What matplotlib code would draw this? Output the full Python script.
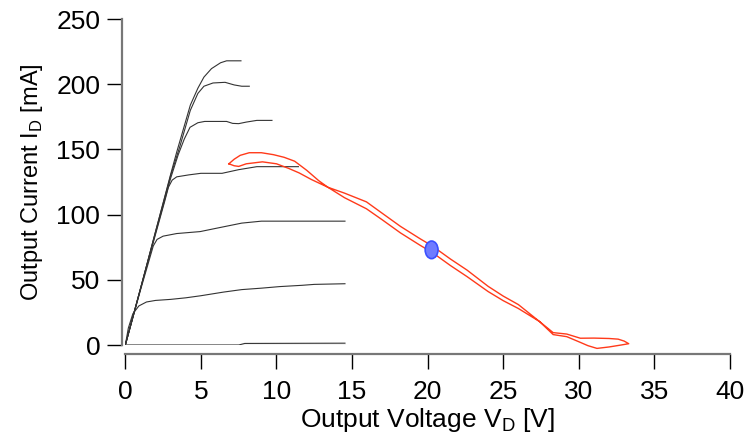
import matplotlib.pyplot as plt
from matplotlib.patches import Ellipse

plt.rcParams["font.family"] = ["Liberation Sans", "DejaVu Sans"]
plt.rcParams["mathtext.fontset"] = "custom"
plt.rcParams["mathtext.rm"] = "Liberation Sans"

# Output characteristics, one curve per gate bias (V in volts, I in mA)
v_1 = [0, 1, 2, 3, 3.4, 4.3, 4.8, 5.2, 5.7, 6.3, 6.7, 7.65]
i_1 = [0, 43, 87, 131, 148, 184, 197, 205.5, 212, 216.5, 218, 218]
v_2 = [0, 1, 2, 3, 3.6, 4.3, 4.8, 5.2, 5.8, 6.6, 7.2, 7.7, 8.2]
i_2 = [0, 43, 87, 130, 152, 180, 193, 198.5, 201, 201.5, 199.5, 198.5, 198.5]
v_3 = [0, 1, 2, 3, 3.5, 3.9, 4.28, 4.8, 5.25, 6.7, 7.1, 7.5, 8.0, 8.7, 9.7]
i_3 = [0, 43, 86, 128, 146, 158, 167, 170.5, 171.5, 171.5, 170, 169.8, 171, 172.3, 172.3]
v_4 = [0, 1, 2, 2.6, 2.85, 3.1, 3.4, 4.2, 5.0, 6.4, 7.5, 8.7, 11.45]
i_4 = [0, 43, 85, 110, 121, 126.5, 129, 130.5, 131.7, 131.7, 134.5, 136.8, 136.8]
v_5 = [0, 1, 1.5, 1.85, 2.1, 2.5, 3.4, 4.95, 6.0, 7.7, 9.0, 14.53]
i_5 = [0, 42, 62, 76, 81, 83.5, 85.5, 87, 89.5, 93.5, 95, 95]
v_6 = [0, 0.2, 0.5, 0.9, 1.4, 2.0, 3.0, 4.0, 5.0, 6.5, 7.7, 9.0, 10.2, 11.7, 12.5, 14.53]
i_6 = [0, 13, 24, 30, 33, 34.2, 35, 36.2, 37.8, 40.6, 42.5, 43.6, 44.8, 45.8, 46.5, 47]
v_7 = [0, 7.5, 7.9, 14.53]
i_7 = [0, 0, 1.2, 1.4]
v_8 = [0, 14.53]
i_8 = [0, 0]

# Dynamic load line, two branches of the closed loop
v_a = [6.85, 7.2, 7.6, 8.2, 9.0, 9.8, 10.5, 11.2, 12.0, 12.8, 13.4,
       14.5, 15.95, 17.0, 18.2, 19.5, 20.3, 21.5, 22.6, 24.0, 25.0, 26.0, 27.4,
       28.3, 29.2, 30.1, 31.0, 32.0, 32.6, 33.0, 33.3]
i_a = [139, 142.5, 145.5, 147.5, 147.5, 146, 144, 141, 134, 126, 121,
       113, 104.5, 96, 86, 76.5, 71, 61, 52.5, 41, 34, 28, 18,
       9.5, 8.4, 5.2, 5.3, 5.0, 4.5, 3.0, 1.0]
v_b = [6.85, 7.2, 7.5, 8.0, 9.07, 10.0, 10.8, 11.5, 12.3, 13.4,
       14.5, 15.95, 17.0, 18.2, 19.5, 20.3, 21.5, 22.6, 24.0, 25.0, 26.0, 27.4,
       28.3, 29.2, 30.0, 30.6, 31.2, 32.0, 32.8, 33.3]
i_b = [139, 137.5, 137, 139, 140.5, 139, 135.5, 132, 127, 121,
       116.5, 109.8, 101, 91, 81.5, 76, 66, 57.5, 45, 37.5, 31, 18,
       8, 6.4, 2.5, -0.5, -2.6, -1.5, 0, 1.0]

# Quiescent bias point
q_v = 20.26
q_i = 73

fig = plt.figure(figsize=(7.54, 4.36), dpi=100)
ax = fig.add_axes([0.1662, 0.2087, 0.802, 0.7475])

curves = [(v_1, i_1), (v_2, i_2), (v_3, i_3), (v_4, i_4),
          (v_5, i_5), (v_6, i_6), (v_7, i_7), (v_8, i_8)]
for v, i in curves:
    ax.plot(v, i, color="#333333", lw=0.8)

loop_v = v_a + v_b[::-1]
loop_i = i_a + i_b[::-1]
ax.plot(loop_v, loop_i, color="#ff3a1a", lw=1.0, clip_on=False)

ax.add_patch(Ellipse((q_v, q_i), 0.85, 13.5, facecolor="#6f7bff",
                     edgecolor="#3a50ff", lw=1.2, zorder=5))

ax.set_xlim(0, 40)
ax.set_ylim(0, 250)
ax.set_xticks(range(0, 41, 5))
ax.set_yticks(range(0, 251, 50))

for side in ["top", "right"]:
    ax.spines[side].set_visible(False)
ax.spines["left"].set_position(("outward", 2.2))
ax.spines["bottom"].set_position(("outward", 6.7))
for side in ["left", "bottom"]:
    ax.spines[side].set_color("#777777")
    ax.spines[side].set_linewidth(1.6)

ax.tick_params(axis="both", direction="out", length=10.8, width=1.0,
               color="black", labelsize=19)
ax.tick_params(axis="x", pad=8)
ax.tick_params(axis="y", pad=5)

ax.set_xlabel(r"Output Voltage V$_\mathregular{D}$ [V]", fontsize=19, labelpad=1)
ax.set_ylabel(r"Output Current I$_\mathregular{D}$ [mA]", fontsize=17, labelpad=8)

plt.savefig("out.png", dpi=100)
